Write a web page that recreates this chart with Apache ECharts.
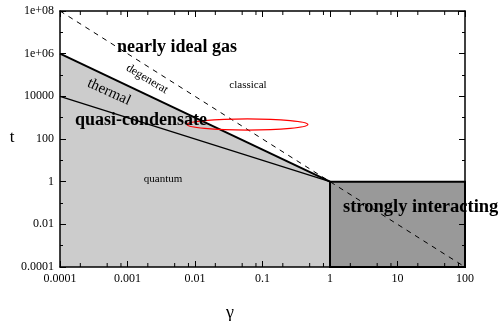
<!DOCTYPE html>
<html>
<head>
<meta charset="utf-8">
<script src="https://cdn.jsdelivr.net/npm/echarts@6/dist/echarts.min.js"></script>
<style>
  html, body { margin: 0; padding: 0; background: #fff; }
  #main { width: 501px; height: 321px; }
</style>
</head>
<body>
<div id="main"></div>
<script>
// regions of the gamma / t diagram (real values, plotted on log10 axes)
var quantumRegion = [[1e-4, 1e-4], [1e-4, 1e6], [1, 1], [1, 1e-4]];
var strongRegion = [[1, 1e-4], [1, 1], [100, 1], [100, 1e-4]];
var degenerateLine = [[1e-4, 1e6], [1, 1]];
var thermalLine = [[1e-4, 1e4], [1, 1]];
var classicalLine = [[1e-4, 1e8], [100, 1e-4]];
// red ellipse bounding box [xmin, xmax, ymin, ymax]
var ellipseBox = [0.0076, 0.47, 263, 870];

var xTicks = ['0.0001', '0.001', '0.01', '0.1', '1', '10', '100'];
var yTicks = ['0.0001', '0.01', '1', '100', '10000', '1e+06', '1e+08'];
var xMinorMult = [2, 5, 8];

var serif = 'Liberation Serif';

function lg(v) { return Math.log(v) / Math.LN10; }
function toLog(p) { return [lg(p[0]), lg(p[1])]; }

function xLabel(v) {
  return xTicks[Math.round(v) + 4] || '';
}
function yLabel(v) {
  return yTicks[(Math.round(v) + 4) / 2] || '';
}

var chart = echarts.init(document.getElementById('main'));

function valAxis(show, pos, mn, mx, step, fmt, minor) {
  return {
    type: 'value',
    position: pos,
    min: mn,
    max: mx,
    interval: step,
    z: 10,
    axisLine: { show: true, onZero: false, lineStyle: { color: '#000', width: 1.5 } },
    axisTick: { show: true, inside: true, length: 6, lineStyle: { color: '#000', width: 1 } },
    minorTick: { show: minor, splitNumber: 2, length: 3, lineStyle: { color: '#000', width: 1 } },
    axisLabel: {
      show: show,
      formatter: fmt,
      color: '#000',
      fontFamily: serif,
      fontSize: 12,
      margin: 6,
      showMinLabel: true,
      showMaxLabel: true
    },
    splitLine: { show: false },
    minorSplitLine: { show: false }
  };
}

function polyItem(params, api) {
  var pts = params.dataIndex === 0 ? quantumRegion : strongRegion;
  var coords = pts.map(function (p) { return api.coord(toLog(p)); });
  return {
    type: 'polygon',
    shape: { points: coords },
    style: params.dataIndex === 0
      ? { fill: '#cccccc', stroke: null }
      : { fill: '#999999', stroke: '#000', lineWidth: 2 }
  };
}

function ellipseItem(params, api) {
  var a = api.coord([lg(ellipseBox[0]), lg(ellipseBox[2])]);
  var b = api.coord([lg(ellipseBox[1]), lg(ellipseBox[3])]);
  return {
    type: 'ellipse',
    shape: {
      cx: (a[0] + b[0]) / 2,
      cy: (a[1] + b[1]) / 2,
      rx: Math.abs(b[0] - a[0]) / 2,
      ry: Math.abs(b[1] - a[1]) / 2
    },
    style: { fill: null, stroke: '#ff0000', lineWidth: 1.2 }
  };
}

// log minor ticks on the gamma axis (bottom and top)
var minorTickData = [];
for (var d = -4; d < 2; d++) {
  xMinorMult.forEach(function (m) { minorTickData.push(lg(m) + d); });
}
function minorTickItem(params, api) {
  var x = api.value(0);
  var b = api.coord([x, -4]);
  var t = api.coord([x, 8]);
  return {
    type: 'group',
    children: [
      { type: 'line', shape: { x1: b[0], y1: b[1], x2: b[0], y2: b[1] - 4 }, style: { stroke: '#000', lineWidth: 1 } },
      { type: 'line', shape: { x1: t[0], y1: t[1], x2: t[0], y2: t[1] + 4 }, style: { stroke: '#000', lineWidth: 1 } }
    ]
  };
}

function txt(text, x, y, size, bold, rot, align) {
  return {
    type: 'text',
    x: x, y: y,
    rotation: rot || 0,
    z: 100,
    style: {
      text: text,
      fill: '#000',
      font: (bold ? 'bold ' : '') + size + 'px "' + serif + '"',
      align: align || 'center',
      verticalAlign: 'middle'
    }
  };
}

var option = {
  animation: false,
  grid: { left: 60, right: 36, top: 11, bottom: 54 },
  xAxis: [
    valAxis(true, 'bottom', -4, 2, 1, xLabel, false),
    valAxis(false, 'top', -4, 2, 1, xLabel, false)
  ],
  yAxis: [
    valAxis(true, 'left', -4, 8, 2, yLabel, true),
    valAxis(false, 'right', -4, 8, 2, yLabel, true)
  ],
  series: [
    {
      type: 'custom',
      renderItem: polyItem,
      data: [0, 1],
      z: 1
    },
    {
      type: 'line',
      data: thermalLine.map(toLog),
      symbol: 'none',
      lineStyle: { color: '#000', width: 1.2 },
      z: 3
    },
    {
      type: 'line',
      data: degenerateLine.map(toLog),
      symbol: 'none',
      lineStyle: { color: '#000', width: 2 },
      z: 3
    },
    {
      type: 'line',
      data: classicalLine.map(toLog),
      symbol: 'none',
      lineStyle: { color: '#000', width: 1, type: [5, 5] },
      z: 3
    },
    {
      type: 'custom',
      renderItem: ellipseItem,
      data: [0],
      z: 4
    },
    {
      type: 'custom',
      renderItem: minorTickItem,
      data: minorTickData.map(function (v) { return [v]; }),
      encode: { x: 0 },
      clip: false,
      z: 12
    }
  ],
  graphic: [
    txt('nearly ideal gas', 177, 47, 18, true),
    txt('degenerat', 147, 79, 12, false, -0.54),
    txt('thermal', 109, 92, 15, false, -0.43),
    txt('quasi-condensate', 141, 120, 18, true),
    txt('classical', 248, 85, 11),
    txt('quantum', 163, 179, 11),
    txt('strongly interacting', 343, 207, 18.5, true, 0, 'left'),
    txt('t', 12, 138, 17),
    txt('\u03b3', 230, 313, 18)
  ]
};

chart.setOption(option);
</script>
</body>
</html>
